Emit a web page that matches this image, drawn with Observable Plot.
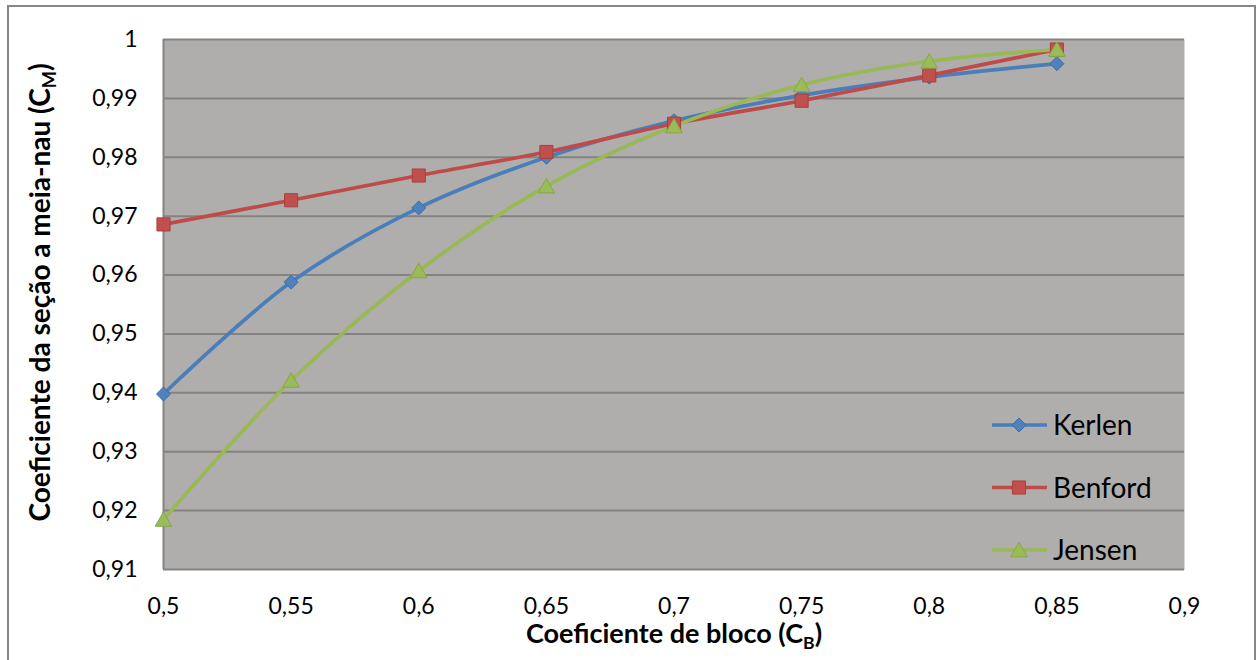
<!DOCTYPE html>
<html>
<head>
<meta charset="utf-8">
<script src="https://cdn.jsdelivr.net/npm/d3@7"></script>
<script src="https://cdn.jsdelivr.net/npm/@observablehq/plot@0.6"></script>
<style>
  body { margin: 0; background: #ffffff; }
  #chart { position: relative; width: 1259px; height: 660px; overflow: hidden; }
  #border { position: absolute; left: 7px; top: 5px; width: 1245px; height: 680px;
            border: 2px solid #878787; pointer-events: none; }
  svg text { font-family: Lato, "Open Sans", sans-serif; }
</style>
</head>
<body>
<div id="chart"><div id="border"></div></div>
<script>
// Block coefficient (C_B) on the horizontal axis
const blockCoef = [0.5, 0.55, 0.6, 0.65, 0.7, 0.75, 0.8, 0.85];

// Midship section coefficient (C_M) by method
const kerlen  = [0.9398, 0.9588, 0.9714, 0.9800, 0.9862, 0.9905, 0.9936, 0.9959];
const benford = [0.9686, 0.9727, 0.9769, 0.9809, 0.9857, 0.9896, 0.9939, 0.9983];
const jensen  = [0.9185, 0.9421, 0.9607, 0.9751, 0.9853, 0.9923, 0.9963, 0.9983];

const seriesNames = ["Kerlen", "Benford", "Jensen"];

// Axis ticks
const xTicks = [0.5, 0.55, 0.6, 0.65, 0.7, 0.75, 0.8, 0.85, 0.9];
const yTicks = [0.91, 0.92, 0.93, 0.94, 0.95, 0.96, 0.97, 0.98, 0.99, 1];

const xTitle = ["Coeficiente de bloco (C", "B", ")"];
const yTitle = ["Coeficiente da seção a meia-nau (C", "M", ")"];

// Styling per series
const styles = {
  Kerlen:  {line: "#4A7EBB", fill: "#4F81BD", edge: "#3E6DA8", symbol: "diamond2", r: 6.3, dy: 0},
  Benford: {line: "#BE4B48", fill: "#C0504D", edge: "#A9403D", symbol: "square",   r: 7.4, dy: 0},
  Jensen:  {line: "#98B954", fill: "#9BBB59", edge: "#86A64A", symbol: "triangle", r: 6.2, dy: 2}
};

const values = {Kerlen: kerlen, Benford: benford, Jensen: jensen};
const rows = seriesNames.map(name =>
  blockCoef.map((cb, i) => ({serie: name, cb, cm: values[name][i]})));

const comma = d => String(d).replace(".", ",");

const seriesMarks = [];
rows.forEach(data => {
  const s = styles[data[0].serie];
  seriesMarks.push(Plot.line(data, {x: "cb", y: "cm", stroke: s.line, strokeWidth: 3.7, curve: "catmull-rom"}));
});
rows.forEach(data => {
  const s = styles[data[0].serie];
  seriesMarks.push(Plot.dot(data, {x: "cb", y: "cm", symbol: s.symbol, r: s.r, dy: s.dy,
    fill: s.fill, stroke: s.edge, strokeWidth: 1}));
});

const W = 1259, H = 660;
const M = {top: 39, right: 75, bottom: 91, left: 163};

const chart = Plot.plot({
  width: W, height: H,
  marginTop: M.top, marginRight: M.right, marginBottom: M.bottom, marginLeft: M.left,
  style: {fontFamily: "Lato, 'Open Sans', sans-serif", fontSize: "23px", color: "#000", background: "transparent"},
  x: {domain: [0.5, 0.9], ticks: xTicks, tickFormat: comma, tickSize: 0, tickPadding: 28, label: null},
  y: {domain: [0.91, 1], ticks: yTicks, tickFormat: comma, tickSize: 0, tickPadding: 26, label: null},
  marks: [
    Plot.frame({fill: "#B0AEAD", stroke: "none"}),
    Plot.ruleY(yTicks, {stroke: "#838383", strokeWidth: 2}),
    Plot.ruleX([0.5], {stroke: "#838383", strokeWidth: 2}),
    ...seriesMarks,
    Plot.text([xTitle.join("")], {frameAnchor: "bottom", dy: 65, text: d => d,
      textAnchor: "middle", lineAnchor: "middle", fontSize: 27, fontWeight: "bold", fill: "#000"}),
    Plot.text([yTitle.join("")], {frameAnchor: "left", dx: -122, dy: -12, rotate: -90, text: d => d,
      textAnchor: "middle", lineAnchor: "middle", fontSize: 28, fontWeight: "bold", fill: "#000"})
  ]
});

const svg = d3.select(chart);

// Subscripts in the axis titles
[xTitle, yTitle].forEach(parts => {
  svg.selectAll("text").filter(function() { return this.textContent === parts.join(""); })
    .each(function() {
      const t = d3.select(this);
      t.text(null);
      t.append("tspan").text(parts[0]);
      t.append("tspan").attr("font-size", "65%").attr("dy", 6).text(parts[1]);
      t.append("tspan").attr("dy", -6).text(parts[2]);
    });
});

// Legend in the lower right corner of the plot area
const right = W - M.right, bottom = H - M.bottom;
const legend = svg.append("g").attr("text-anchor", "start");
seriesNames.forEach((name, i) => {
  const s = styles[name];
  const y = bottom - 144 + i * 62.5;
  const g = legend.append("g");
  g.append("line").attr("x1", right - 192).attr("x2", right - 137).attr("y1", y).attr("y2", y)
    .attr("stroke", s.line).attr("stroke-width", 3.7);
  const sym = {diamond2: d3.symbolDiamond2, square: d3.symbolSquare, triangle: d3.symbolTriangle}[s.symbol];
  g.append("path").attr("d", d3.symbol(sym, Math.PI * s.r * s.r)())
    .attr("transform", `translate(${right - 165},${y + s.dy})`)
    .attr("fill", s.fill).attr("stroke", s.edge).attr("stroke-width", 1);
  g.append("text").attr("x", right - 131).attr("y", y).attr("dy", "0.36em")
    .attr("text-anchor", "start").attr("font-size", 28).attr("fill", "#000").text(name);
});

document.getElementById("chart").prepend(chart);
</script>
</body>
</html>
